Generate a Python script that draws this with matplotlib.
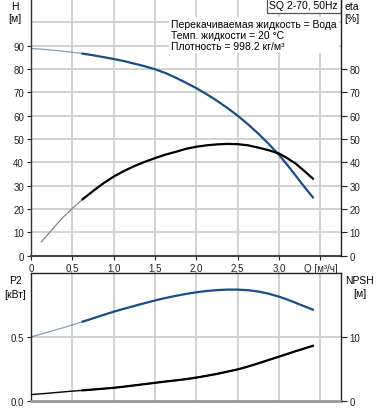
import numpy as np
import matplotlib
matplotlib.use("Agg")
import matplotlib.pyplot as plt

plt.rcParams['font.family'] = ['Liberation Sans', 'DejaVu Sans']
plt.rcParams['font.size'] = 7

# Data
q = [0.0, 0.125, 0.25, 0.375, 0.5, 0.625, 0.75, 0.875, 1.0, 1.125, 1.25, 1.375, 1.5, 1.625,
     1.75, 1.875, 2.0, 2.125, 2.25, 2.375, 2.5, 2.625, 2.75, 2.875, 3.0, 3.1, 3.2, 3.3, 3.41]
h = [88.8, 88.5, 88.1, 87.7, 87.2, 86.6, 85.9, 85.1, 84.3, 83.4, 82.3, 81.2, 79.9, 78.3,
     76.3, 74.1, 71.8, 69.2, 66.4, 63.3, 60.0, 56.3, 52.3, 47.9, 43.2, 38.9, 34.4, 29.8, 25.0]
eta = [np.nan, 5.9, 11.0, 16.0, 20.3, 24.2, 27.7, 31.0, 33.9, 36.3, 38.4, 40.2, 41.8, 43.3,
       44.5, 45.8, 46.7, 47.3, 47.7, 47.9, 47.8, 47.3, 46.3, 45.2, 43.8, 41.8, 39.5, 36.5, 33.0]
p2 = [0.500, 0.522, 0.545, 0.569, 0.593, 0.619, 0.645, 0.671, 0.697, 0.720, 0.742, 0.764, 0.785, 0.804,
      0.821, 0.836, 0.849, 0.859, 0.866, 0.870, 0.870, 0.865, 0.855, 0.838, 0.815, 0.792, 0.767, 0.741, 0.713]
npsh = [0.95, 1.08, 1.22, 1.36, 1.5, 1.62, 1.75, 1.88, 2.02, 2.2, 2.4, 2.6, 2.8, 3.0,
        3.18, 3.38, 3.62, 3.9, 4.2, 4.55, 4.9, 5.35, 5.85, 6.38, 6.9, 7.32, 7.75, 8.15, 8.6]
q_start = 0.625

x_ticks = [0, 0.5, 1.0, 1.5, 2.0, 2.5, 3.0]
x_ticklabels = ['0', '0,5', '1,0', '1,5', '2,0', '2,5', '3,0']
h_ticks = [0, 10, 20, 30, 40, 50, 60, 70, 80, 90]
eta_ticks = [0, 10, 20, 30, 40, 50, 60, 70, 80]
p2_ticks = [0.0, 0.5]
p2_ticklabels = ['0.0', '0.5']
npsh_ticks = [0, 10]

title_text = 'SQ 2-70, 50Hz'
info_text = 'Перекачиваемая жидкость = Вода\nТемп. жидкости = 20 °C\nПлотность = 998.2 кг/м³'

BLUE = '#1b4f8a'
BLACK = '#000000'
GRID = '#cfcfcf'

W, H = 378, 410
fig = plt.figure(figsize=(W / 100, H / 100), dpi=100)

def fr(x0, y0, x1, y1):
    return [x0 / W, 1 - y1 / H, (x1 - x0) / W, (y1 - y0) / H]

qa = np.array(q)
mask = qa >= q_start - 1e-9

# ---------- top panel ----------
ax = fig.add_axes(fr(31, 0, 341, 256.7))
ax.xaxis.remove_overlapping_locs = False
ax.yaxis.remove_overlapping_locs = False
ax.set_xlim(0, 3.75)
ax.set_ylim(0, 110)
ax.set_xticks(x_ticks + [3.5])
ax.set_xticklabels(x_ticklabels + ['Q [м³/ч]'])
ax.set_xticks(np.arange(0.5, 3.6, 0.5), minor=True)
ax.set_yticks(h_ticks)
ax.set_yticks(np.arange(10, 111, 10), minor=True)
ax.grid(True, which='minor', color=GRID, lw=1.3)
ax.tick_params(which='minor', length=0)
ax.tick_params(axis='both', which='major', direction='out', length=3, width=0.8, pad=2, colors='#222222')
ax.spines['top'].set_visible(False)
ax.spines['right'].set_visible(False)
ax.spines['left'].set_color('#333333')
ax.spines['bottom'].set_color('#444444')
ax.spines['left'].set_linewidth(1.0)
ax.spines['bottom'].set_linewidth(1.5)
ax.set_axisbelow(True)

ax.plot(qa, h, color=BLUE, lw=0.9, alpha=0.55)
ax.plot(qa[mask], np.array(h)[mask], color=BLUE, lw=1.6)

ax2 = ax.twinx()
ax2.set_ylim(0, 110)
ax2.set_yticks(eta_ticks)
ax2.tick_params(axis='y', direction='out', length=4, width=0.8, pad=2, colors='#222222')
for s in ['top', 'left', 'bottom']:
    ax2.spines[s].set_visible(False)
ax2.spines['right'].set_color('#222222')
ax2.spines['right'].set_linewidth(1.0)
ax2.plot(qa, eta, color='#777777', lw=0.8)
ax2.plot(qa[mask], np.array(eta)[mask], color=BLACK, lw=1.6)

ax.text(1.0 - 3 / 310, 1.0 - 1 / 256.7, title_text, transform=ax.transAxes, ha='right', va='top',
        fontsize=7.5, bbox=dict(boxstyle='square,pad=0.25', fc='white', ec='#555555', lw=0.9), zorder=10)
ax.text((171 - 31) / 310, 1 - 20 / 256.7, info_text, transform=ax.transAxes, ha='left', va='top',
        fontsize=7.5, linespacing=1.15,
        bbox=dict(boxstyle='square,pad=0.2', fc='white', ec='none'), zorder=10)

fig.text(15 / W, 1 - 7 / H, 'H', ha='center', va='center', fontsize=7.5)
fig.text(15 / W, 1 - 19 / H, '[м]', ha='center', va='center', fontsize=7.5)
fig.text(352 / W, 1 - 7 / H, 'eta', ha='center', va='center', fontsize=7.5)
fig.text(352 / W, 1 - 19 / H, '[%]', ha='center', va='center', fontsize=7.5)

# ---------- bottom panel ----------
bx = fig.add_axes(fr(31, 274, 341, 401.7))
bx.set_xlim(0, 3.75)
bx.set_ylim(0, 1.0)
bx.set_xticks(np.arange(0.5, 3.6, 0.5), minor=True)
bx.set_xticks([])
bx.set_yticks(p2_ticks)
bx.set_yticklabels(p2_ticklabels)
bx.grid(True, which='minor', axis='x', color=GRID, lw=1.3)
bx.axhline(0.5, color=GRID, lw=1.3, zorder=0)
bx.tick_params(which='minor', length=0)
bx.tick_params(axis='y', direction='out', length=3, width=0.8, pad=2, colors='#222222')
bx.spines['bottom'].set_color('#999999')
bx.spines['bottom'].set_linewidth(2.0)
for s in ['top', 'left', 'right']:
    bx.spines[s].set_color('#222222')
    bx.spines[s].set_linewidth(1.0)
bx.set_axisbelow(True)
bx.plot(qa, p2, color=BLUE, lw=0.9, alpha=0.55)
bx.plot(qa[mask], np.array(p2)[mask], color=BLUE, lw=1.6)

bx2 = bx.twinx()
bx2.set_ylim(0, 20)
bx2.set_yticks(npsh_ticks)
bx2.tick_params(axis='y', direction='out', length=4, width=0.8, pad=2, colors='#222222')
for s in ['top', 'left', 'bottom', 'right']:
    bx2.spines[s].set_visible(False)
bx2.plot(qa, npsh, color=BLACK, lw=1.0)
bx2.plot(qa[mask], np.array(npsh)[mask], color=BLACK, lw=1.6)

fig.text(15 / W, 1 - 281 / H, 'P2', ha='center', va='center', fontsize=7.5)
fig.text(15 / W, 1 - 295 / H, '[кВт]', ha='center', va='center', fontsize=7.5)
fig.text(360 / W, 1 - 281 / H, 'NPSH', ha='center', va='center', fontsize=7.5)
fig.text(360 / W, 1 - 294 / H, '[м]', ha='center', va='center', fontsize=7.5)

fig.savefig('out.png', dpi=100)
